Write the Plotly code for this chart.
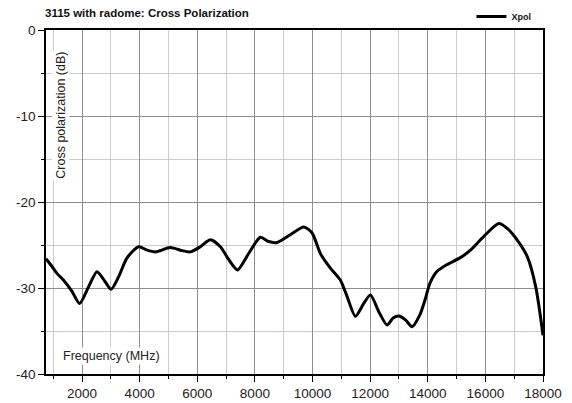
import plotly.graph_objects as go

freq_mhz = [750, 958, 1130, 1361, 1653, 1917, 2229, 2521, 2809, 3007, 3271, 3562, 3965,
            4257, 4545, 5066, 5413, 5760, 6108, 6455, 6802, 7035, 7264, 7403, 7800,
            8191, 8479, 8771, 9232, 9695, 9986, 10274, 10621, 10969, 11201, 11490, 11777,
            12010, 12300, 12589, 12798, 12993, 13226, 13458, 13730, 13903, 14076, 14308,
            14655, 15117, 15483, 15946, 16466, 16757, 17056, 17461, 17750, 18000]
xpol_db = [-26.6, -27.5, -28.3, -29.1, -30.4, -31.8, -29.85, -28.1, -29.3, -30.15, -28.7,
           -26.5, -25.2, -25.6, -25.8, -25.3, -25.6, -25.8, -25.2, -24.4, -25.2, -26.4,
           -27.5, -27.9, -25.9, -24.1, -24.6, -24.7, -23.8, -22.9, -23.6, -26.0,
           -27.7, -29.1, -31.0, -33.3, -31.8, -30.8, -32.75, -34.3, -33.5, -33.26, -33.7,
           -34.5, -33.1, -31.4, -29.45, -28.1, -27.3, -26.5, -25.6, -24.0, -22.5, -23.06,
           -24.2, -26.4, -29.9, -35.5]

x_tick_vals = [2000, 4000, 6000, 8000, 10000, 12000, 14000, 16000, 18000]
x_tick_text = ["2000", "4000", "6000", "8000", "10000", "12000", "14000", "16000", "18000"]
y_tick_vals = [0, -10, -20, -30, -40]
y_tick_text = ["0", "-10", "-20", "-30", "-40"]

title_text = "3115 with radome: Cross Polarization"
x_title = "Frequency (MHz)"
y_title = "Cross polarization (dB)"
series_name = "Xpol"

fig = go.Figure()
fig.add_trace(go.Scatter(
    x=freq_mhz, y=xpol_db, mode="lines", name=f"<b>{series_name}</b>",
    line=dict(color="black", width=3, shape="spline", smoothing=0.7),
))

major_grid = "#8e8e8e"
minor_grid = "#d3c9c8"
tick_font = dict(size=13.5, color="#222")

# the page body adds an 8px offset, so the figure is 8px smaller than the window
fig.update_layout(
    width=564, height=395,
    margin=dict(l=38, r=29, t=22, b=29, autoexpand=False),
    paper_bgcolor="white", plot_bgcolor="white",
    font=dict(family="Liberation Sans, Arial, sans-serif", color="#222"),
    showlegend=True,
    legend=dict(x=0.856, y=1.039, xanchor="left", yanchor="middle",
                bgcolor="rgba(0,0,0,0)", font=dict(size=9, color="#111"),
                itemwidth=30, tracegroupgap=0),
    xaxis=dict(range=[750, 18000], tickvals=x_tick_vals, ticktext=x_tick_text,
               showgrid=True, gridcolor=major_grid, gridwidth=1, ticks="outside",
               ticklen=6, tickcolor="black", showline=True, linecolor="black",
               linewidth=1.5, mirror=True, zeroline=False, tickfont=tick_font,
               minor=dict(dtick=1000, tick0=0, showgrid=True, gridcolor=minor_grid,
                          ticks="outside", ticklen=3, tickcolor="black")),
    yaxis=dict(range=[-40, 0], tickvals=y_tick_vals, ticktext=y_tick_text,
               showgrid=True, gridcolor=major_grid, gridwidth=1, ticks="outside",
               ticklen=6, tickcolor="black", showline=True, linecolor="black",
               linewidth=1.5, mirror=True, zeroline=False, tickfont=tick_font,
               minor=dict(dtick=5, tick0=0, showgrid=True, gridcolor=minor_grid,
                          ticks="outside", ticklen=3, tickcolor="black")),
)

fig.add_annotation(x=(43-46)/497, y=(374-13)/344, xref="paper", yref="paper",
                   xanchor="left", yanchor="middle", text=f"<b>{title_text}</b>",
                   showarrow=False, font=dict(size=11.5, color="#111"))
fig.add_annotation(x=3017, y=-37.9, xref="x", yref="y", xanchor="center",
                   yanchor="middle", text=x_title, showarrow=False,
                   font=dict(size=12.5, color="#222"), bgcolor="white")
fig.add_annotation(x=(60.7-46)/497, y=(374-115)/344, xref="paper", yref="paper",
                   xanchor="center", yanchor="middle", text=y_title, textangle=-90,
                   showarrow=False, font=dict(size=12.5, color="#222"), bgcolor="white")

fig.write_html("out.html")
